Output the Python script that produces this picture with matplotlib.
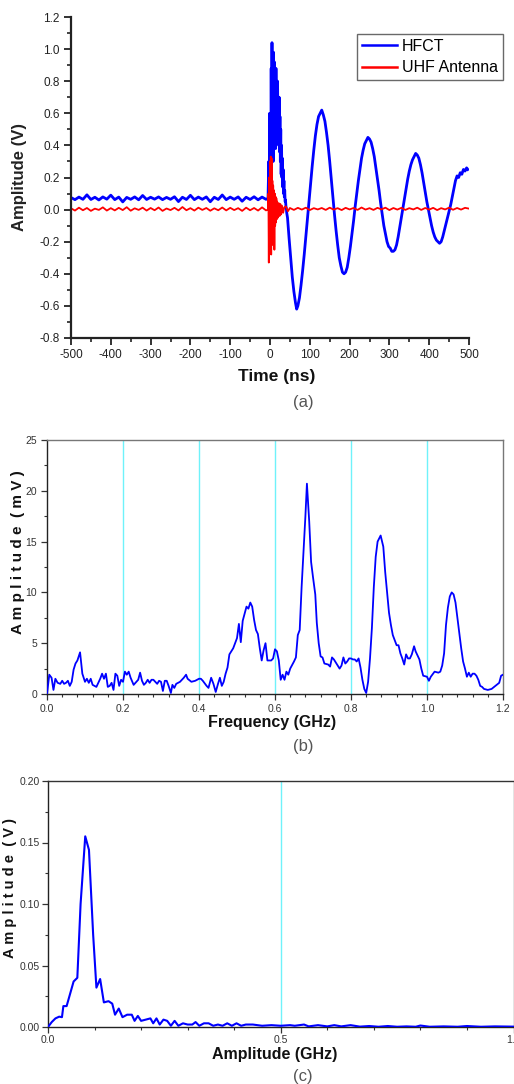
import matplotlib
matplotlib.use("Agg")
import matplotlib.pyplot as plt
from matplotlib.ticker import MultipleLocator, FormatStrFormatter

plt.rcParams['axes.unicode_minus'] = False
plt.rcParams['font.family'] = ['Liberation Sans', 'DejaVu Sans']

# ---------------- Panel (a): time-domain signals ----------------
hfct_time = [-500, -490, -480, -470, -460, -450, -440, -430, -420, -410,
             -400, -390, -380, -370, -360, -350, -340, -330, -320, -310,
             -300, -290, -280, -270, -260, -250, -240, -230, -220, -210,
             -200, -190, -180, -170, -160, -150, -140, -130, -120, -110,
             -100, -90, -80, -70, -60, -50, -40, -30, -20, -10,
             -5, -3, -2, -1, 0, 1, 2, 3, 4, 5, 6, 7, 8, 9, 10, 11, 12, 13, 14, 15,
             16, 17, 18, 19, 20, 21, 22, 23, 24, 25, 26, 27, 28, 29, 30, 31, 32,
             33, 34, 35, 36, 37, 38, 39, 40, 41, 42,
             44, 48, 52, 56, 60, 64, 67, 70, 74, 78, 82, 86, 90, 94, 98, 102,
             106, 110, 114, 118, 122, 126, 130, 134, 138, 142, 146, 150, 154,
             158, 162, 166, 170, 174, 178, 182, 186, 190, 194, 198, 202, 206,
             210, 214, 218, 222, 226, 230, 234, 238, 242, 246, 250, 254, 258,
             262, 266, 270, 274, 278, 282, 286, 290, 294, 298, 302, 306, 310,
             314, 318, 322, 326, 330, 334, 338, 342, 346, 350, 354, 358, 362,
             366, 370, 374, 378, 382, 386, 390, 394, 398, 402, 406, 410, 414,
             418, 422, 426, 430, 434, 438, 442, 446, 450, 454, 458, 462, 466,
             470, 474, 478, 482, 486, 490, 494, 497]
hfct_amp = [0.075, 0.062, 0.078, 0.064, 0.092, 0.063, 0.077, 0.060, 0.079, 0.065,
            0.090, 0.062, 0.078, 0.048, 0.076, 0.064, 0.079, 0.061, 0.088, 0.063,
            0.077, 0.065, 0.079, 0.062, 0.076, 0.064, 0.080, 0.050, 0.077, 0.063,
            0.089, 0.062, 0.078, 0.064, 0.079, 0.049, 0.077, 0.063, 0.091, 0.062,
            0.078, 0.064, 0.079, 0.052, 0.077, 0.063, 0.080, 0.061, 0.078, 0.064,
            0.070, 0.300, 0.100, 0.600, 0.200, 0.550, 0.120, 0.880, 0.300, 1.040,
            0.420, 0.960, 0.300, 0.980, 0.480, 0.920, 0.550, 0.820, 0.380, 0.880,
            0.580, 0.760, 0.440, 0.800, 0.520, 0.660, 0.400, 0.700, 0.360, 0.580,
            0.300, 0.500, 0.220, 0.400, 0.200, 0.320, 0.140, 0.250, 0.100, 0.180,
            0.080, 0.120, 0.050, 0.060, 0.020, 0.010, -0.020,
            -0.05, -0.18, -0.30, -0.42, -0.51, -0.58, -0.62, -0.60, -0.55, -0.47,
            -0.38, -0.28, -0.17, -0.06, 0.05, 0.16, 0.27, 0.37, 0.46, 0.53, 0.58,
            0.60, 0.62, 0.59, 0.55, 0.48, 0.40, 0.30, 0.19, 0.08, -0.03, -0.13,
            -0.22, -0.30, -0.35, -0.39, -0.40, -0.39, -0.36, -0.30, -0.23, -0.15,
            -0.07, 0.02, 0.10, 0.18, 0.25, 0.32, 0.37, 0.41, 0.43, 0.45, 0.44,
            0.42, 0.38, 0.33, 0.26, 0.19, 0.12, 0.04, -0.03, -0.10, -0.15, -0.20,
            -0.23, -0.24, -0.26, -0.26, -0.25, -0.22, -0.17, -0.11, -0.05, 0.01,
            0.07, 0.13, 0.19, 0.24, 0.28, 0.31, 0.33, 0.35, 0.34, 0.32, 0.28,
            0.23, 0.17, 0.11, 0.05, 0.00, -0.05, -0.10, -0.14, -0.17, -0.19,
            -0.20, -0.21, -0.20, -0.17, -0.13, -0.09, -0.05, -0.01, 0.03, 0.08,
            0.13, 0.18, 0.21, 0.20, 0.23, 0.22, 0.25, 0.24, 0.26, 0.25]

uhf_time = [-500, -490, -480, -470, -460, -450, -440, -430, -420, -410,
            -400, -390, -380, -370, -360, -350, -340, -330, -320, -310,
            -300, -290, -280, -270, -260, -250, -240, -230, -220, -210,
            -200, -190, -180, -170, -160, -150, -140, -130, -120, -110,
            -100, -90, -80, -70, -60, -50, -40, -30, -20, -10,
            -5, -4, -3, -2, -1, 0, 1, 2, 3, 4, 5, 6, 7, 8, 9, 10, 11, 12, 13,
            14, 15, 16, 17, 18, 20, 22, 24, 26, 28, 30, 33, 36, 40, 45,
            50, 60, 70, 80, 90, 100, 110, 120, 130, 140, 150, 160, 170, 180,
            190, 200, 210, 220, 230, 240, 250, 260, 270, 280, 290, 300, 310,
            320, 330, 340, 350, 360, 370, 380, 390, 400, 410, 420, 430, 440,
            450, 460, 470, 480, 490, 500]
uhf_amp = [0.008, -0.006, 0.012, -0.004, 0.010, -0.008, 0.006, -0.002, 0.014, -0.006,
           0.009, -0.005, 0.011, -0.003, 0.015, -0.007, 0.008, -0.002, 0.012, -0.006,
           0.010, -0.004, 0.013, -0.008, 0.007, -0.003, 0.011, -0.005, 0.016, -0.004,
           0.009, -0.006, 0.012, -0.002, 0.010, -0.007, 0.008, -0.004, 0.013, -0.005,
           0.011, -0.003, 0.009, -0.008, 0.012, -0.004, 0.010, -0.006, 0.014, -0.005,
           0.000, 0.100, -0.330, 0.200, -0.250, 0.300, -0.200, 0.330, -0.280, 0.320,
           -0.150, 0.180, -0.220, 0.150, -0.120, 0.120, -0.250, 0.100, -0.100, 0.080,
           -0.080, 0.070, -0.060, 0.050, -0.050, 0.040, -0.040, 0.035, -0.030,
           0.025, -0.020, 0.015, 0.020, -0.010,
           0.010, -0.002, 0.011, 0.000, 0.012, -0.003, 0.009, 0.001, 0.010, -0.002,
           0.012, 0.000, 0.009, -0.003, 0.011, 0.001, 0.010, -0.002, 0.013, 0.000,
           0.009, -0.002, 0.011, 0.001, 0.012, -0.003, 0.010, 0.000, 0.011, -0.002,
           0.009, 0.001, 0.012, -0.002, 0.010, 0.000, 0.011, -0.003, 0.009, 0.001,
           0.012, -0.001, 0.010, 0.000, 0.011, 0.006]

a_xticks = [-500, -400, -300, -200, -100, 0, 100, 200, 300, 400, 500]
a_yticks = [-0.8, -0.6, -0.4, -0.2, 0.0, 0.2, 0.4, 0.6, 0.8, 1.0, 1.2]

# ---------------- Panel (b): spectrum (mV) ----------------
freq_b = [0.000, 0.006, 0.012, 0.017, 0.022, 0.028, 0.035, 0.040, 0.045, 0.050,
          0.055, 0.060, 0.065, 0.070, 0.075, 0.080, 0.087, 0.093, 0.100, 0.105,
          0.110, 0.115, 0.120, 0.130, 0.140, 0.145, 0.150, 0.155, 0.160, 0.165,
          0.170, 0.175, 0.180, 0.185, 0.190, 0.195, 0.200, 0.205, 0.210, 0.215,
          0.220, 0.228, 0.235, 0.240, 0.245, 0.250, 0.255, 0.260, 0.265, 0.270,
          0.275, 0.280, 0.285, 0.290, 0.295, 0.300, 0.305, 0.310, 0.315, 0.320,
          0.326, 0.330, 0.335, 0.340, 0.345, 0.350, 0.360, 0.366, 0.370, 0.380,
          0.390, 0.400, 0.405, 0.410, 0.420, 0.425, 0.432, 0.438, 0.444, 0.450,
          0.455, 0.460, 0.465, 0.470, 0.475, 0.480, 0.490, 0.500, 0.505, 0.510,
          0.515, 0.520, 0.525, 0.530, 0.535, 0.540, 0.545, 0.550, 0.555, 0.560,
          0.565, 0.570, 0.575, 0.580, 0.590, 0.595, 0.600, 0.605, 0.610, 0.615,
          0.620, 0.625, 0.630, 0.635, 0.640, 0.650, 0.655, 0.660, 0.665, 0.670,
          0.675, 0.680, 0.684, 0.690, 0.695, 0.700, 0.706, 0.710, 0.715, 0.720,
          0.725, 0.730, 0.740, 0.745, 0.750, 0.755, 0.760, 0.770, 0.775, 0.780,
          0.785, 0.790, 0.795, 0.800, 0.805, 0.810, 0.815, 0.820, 0.825, 0.830,
          0.835, 0.840, 0.845, 0.850, 0.855, 0.860, 0.865, 0.870, 0.878, 0.885,
          0.890, 0.895, 0.900, 0.905, 0.910, 0.915, 0.920, 0.925, 0.930, 0.935,
          0.940, 0.945, 0.950, 0.955, 0.960, 0.966, 0.970, 0.975, 0.980, 0.985,
          0.990, 1.000, 1.005, 1.010, 1.020, 1.030, 1.035, 1.040, 1.045, 1.050,
          1.055, 1.060, 1.065, 1.070, 1.075, 1.080, 1.085, 1.090, 1.095, 1.100,
          1.105, 1.110, 1.115, 1.120, 1.125, 1.130, 1.135, 1.140, 1.145, 1.150,
          1.160, 1.170, 1.180, 1.190, 1.195, 1.200]
amp_b = [0.0, 1.9, 1.6, 0.4, 1.5, 1.1, 1.0, 1.3, 1.0, 1.1,
         1.3, 0.8, 1.2, 2.4, 3.0, 3.3, 4.1, 2.0, 1.2, 1.5,
         1.1, 1.5, 0.9, 0.7, 1.5, 2.0, 1.5, 2.0, 0.7, 0.8,
         1.1, 0.4, 2.0, 1.8, 0.8, 1.4, 1.2, 2.2, 1.9, 2.2,
         1.6, 0.9, 1.2, 1.4, 2.1, 1.3, 0.9, 1.1, 1.4, 1.1,
         1.4, 1.4, 1.2, 1.0, 1.3, 1.2, 0.3, 1.3, 1.3, 0.8,
         0.1, 0.9, 0.6, 1.0, 1.1, 1.2, 1.6, 1.9, 1.5, 1.2,
         1.3, 1.5, 1.5, 1.3, 0.8, 0.6, 1.6, 1.0, 0.2, 1.0,
         1.6, 0.8, 1.2, 2.0, 2.6, 3.9, 4.5, 5.5, 6.9, 5.1,
         7.2, 7.9, 8.6, 8.4, 9.0, 8.6, 7.3, 6.3, 5.9, 4.5,
         3.3, 4.3, 5.0, 3.3, 3.3, 3.5, 4.4, 4.2, 3.3, 1.4,
         1.9, 1.4, 2.2, 1.9, 2.5, 3.2, 3.6, 5.8, 6.3, 10.5,
         14.0, 17.5, 20.7, 17.0, 13.0, 11.5, 9.8, 7.0, 5.0, 3.7,
         3.6, 3.0, 2.9, 2.7, 3.6, 3.4, 3.1, 2.5, 2.8, 3.6,
         3.0, 3.2, 3.5, 3.5, 3.4, 3.4, 3.2, 3.5, 2.6, 1.4,
         0.5, 0.1, 1.2, 3.5, 6.5, 10.5, 13.5, 15.0, 15.6, 14.5,
         12.0, 10.0, 8.0, 6.8, 5.8, 5.3, 4.8, 4.8, 4.0, 3.5,
         2.9, 3.9, 3.5, 3.5, 3.9, 4.7, 4.2, 3.8, 3.4, 2.5,
         1.8, 1.7, 1.3, 1.7, 2.2, 2.1, 2.2, 2.8, 4.0, 6.8,
         8.5, 9.6, 10.0, 9.8, 9.0, 7.5, 6.0, 4.5, 3.2, 2.5,
         1.7, 2.1, 1.7, 2.0, 2.0, 1.8, 1.4, 0.8, 0.7, 0.5,
         0.4, 0.5, 0.8, 1.1, 1.8, 1.9]
b_xticks = [0.0, 0.2, 0.4, 0.6, 0.8, 1.0, 1.2]
b_grid = [0.2, 0.4, 0.6, 0.8, 1.0]
b_yticks = [0, 5, 10, 15, 20, 25]

# ---------------- Panel (c): spectrum (V) ----------------
freq_c = [0.000, 0.008, 0.016, 0.024, 0.030, 0.033, 0.040, 0.046, 0.055, 0.063,
          0.070, 0.080, 0.088, 0.097, 0.104, 0.112, 0.120, 0.130, 0.138, 0.144,
          0.152, 0.160, 0.170, 0.180, 0.186, 0.193, 0.200, 0.210, 0.220, 0.226,
          0.233, 0.240, 0.248, 0.256, 0.264, 0.272, 0.280, 0.290, 0.300, 0.310,
          0.317, 0.325, 0.335, 0.345, 0.355, 0.365, 0.375, 0.385, 0.395, 0.405,
          0.415, 0.425, 0.440, 0.460, 0.480, 0.500, 0.520, 0.530, 0.550, 0.560,
          0.580, 0.600, 0.615, 0.630, 0.650, 0.670, 0.690, 0.710, 0.730, 0.750,
          0.770, 0.790, 0.800, 0.820, 0.850, 0.880, 0.900, 0.930, 0.960, 1.000]
amp_c = [0.000, 0.004, 0.007, 0.0084, 0.008, 0.017, 0.017, 0.025, 0.037, 0.040,
         0.100, 0.155, 0.144, 0.075, 0.032, 0.039, 0.020, 0.021, 0.019, 0.010,
         0.015, 0.008, 0.010, 0.010, 0.005, 0.009, 0.005, 0.006, 0.007, 0.003,
         0.007, 0.002, 0.006, 0.005, 0.001, 0.005, 0.001, 0.003, 0.002, 0.002,
         0.004, 0.001, 0.003, 0.003, 0.001, 0.002, 0.001, 0.003, 0.001, 0.003,
         0.001, 0.002, 0.002, 0.001, 0.0015, 0.001, 0.0015, 0.001, 0.002, 0.0005,
         0.0015, 0.0005, 0.0015, 0.0005, 0.0015, 0.0003, 0.0008, 0.0002, 0.0008, 0.0002,
         0.0005, 0.0002, 0.0012, 0.0002, 0.0005, 0.0002, 0.0008, 0.0002, 0.0005, 0.0003]
c_xticks = [0.0, 0.5, 1.0]
c_grid = [0.5]
c_yticks = [0.00, 0.05, 0.10, 0.15, 0.20]

W, H = 514, 1084
fig = plt.figure(figsize=(W / 100, H / 100), dpi=100)

def fx(px):
    return px / W

def fy(py):
    return 1 - py / H

NARROW = ['Liberation Sans Narrow', 'Liberation Sans', 'DejaVu Sans']
CYAN = '#6ff2fa'
GRAYTXT = '#555555'

# ----- Panel (a) -----
axa = fig.add_axes([fx(71), fy(338), fx(469 - 71), (338 - 17) / H])
axa.plot(hfct_time, hfct_amp, color='#0000ff', lw=2.0, label='HFCT')
axa.plot(uhf_time, uhf_amp, color='#ff0000', lw=1.3, label='UHF Antenna')
axa.set_xlim(-500, 500)
axa.set_ylim(-0.8, 1.2)
axa.set_xticks(a_xticks)
axa.set_yticks(a_yticks)
axa.xaxis.set_minor_locator(MultipleLocator(50))
axa.yaxis.set_minor_locator(MultipleLocator(0.1))
axa.yaxis.set_major_formatter(FormatStrFormatter('%.1f'))
for s in ['top', 'right']:
    axa.spines[s].set_visible(False)
for s in ['left', 'bottom']:
    axa.spines[s].set_linewidth(1.6)
    axa.spines[s].set_color('#222222')
axa.tick_params(which='major', direction='out', length=5, width=1.3, labelsize=8.5,
                colors='#222222', pad=3)
axa.tick_params(which='minor', direction='out', length=3, width=1.2, colors='#222222')
leg = axa.legend(loc='upper left', bbox_to_anchor=(fx(357), fy(34)),
                 bbox_transform=fig.transFigure, borderaxespad=0, fontsize=11.5,
                 frameon=True, fancybox=False, handlelength=2.2, handletextpad=0.3,
                 borderpad=0.3, labelspacing=0.4)
leg.get_frame().set_edgecolor('#444444')
leg.get_frame().set_linewidth(1.0)
for line in leg.get_lines():
    line.set_linewidth(1.8)
fig.text(fx(20), fy(177), 'Amplitude (V)', rotation=90, ha='center', va='center',
         fontsize=12, fontweight='bold', color='#222222')
fig.text(fx(277), fy(377), 'Time (ns)', ha='center', va='center',
         fontsize=12.5, fontweight='bold', color='#111111')
fig.text(fx(303), fy(403), '(a)', ha='center', va='center', fontsize=12, color=GRAYTXT)

# ----- Panel (b) -----
axb = fig.add_axes([fx(47), fy(694), fx(503 - 47), (694 - 440) / H])
for g in b_grid:
    axb.axvline(g, color=CYAN, lw=1.0, zorder=1)
axb.plot(freq_b, amp_b, color='#0000ff', lw=1.3, zorder=3)
axb.set_xlim(0, 1.2)
axb.set_ylim(0, 25)
axb.set_xticks(b_xticks)
axb.set_yticks(b_yticks)
axb.xaxis.set_minor_locator(MultipleLocator(0.04))
axb.yaxis.set_minor_locator(MultipleLocator(2.5))
axb.xaxis.set_major_formatter(FormatStrFormatter('%.1f'))
axb.spines['left'].set_color('#222222')
axb.spines['bottom'].set_color('#222222')
axb.spines['top'].set_color('#777777')
axb.spines['right'].set_color('#777777')
for s in axb.spines.values():
    s.set_linewidth(1.0)
axb.tick_params(which='major', direction='out', length=4, width=0.9, labelsize=7.5,
                colors='#333333', pad=3)
axb.tick_params(which='minor', direction='out', length=2.5, width=0.8, colors='#333333')
for lab in axb.get_xticklabels() + axb.get_yticklabels():
    lab.set_family(NARROW)
fig.text(fx(18), fy(552), 'A m p l i t u d e  ( m V )', rotation=90, ha='center',
         va='center', fontsize=11, fontweight='bold', color='#111111', family=NARROW)
fig.text(fx(272), fy(723), 'Frequency (GHz)', ha='center', va='center',
         fontsize=11.5, fontweight='bold', color='#111111', family=NARROW)
fig.text(fx(303), fy(746), '(b)', ha='center', va='center', fontsize=12, color=GRAYTXT)

# ----- Panel (c) -----
axc = fig.add_axes([fx(48), fy(1027), fx(513.5 - 48), (1027 - 781) / H])
for g in c_grid:
    axc.axvline(g, color=CYAN, lw=1.0, zorder=1)
axc.plot(freq_c, amp_c, color='#0000ff', lw=1.5, zorder=3)
axc.set_xlim(0, 1.0)
axc.set_ylim(0, 0.20)
axc.set_xticks(c_xticks)
axc.set_yticks(c_yticks)
axc.xaxis.set_minor_locator(MultipleLocator(0.1))
axc.yaxis.set_minor_locator(MultipleLocator(0.025))
axc.xaxis.set_major_formatter(FormatStrFormatter('%.1f'))
axc.yaxis.set_major_formatter(FormatStrFormatter('%.2f'))
axc.spines['left'].set_color('#222222')
axc.spines['bottom'].set_color('#222222')
axc.spines['top'].set_color('#333333')
axc.spines['right'].set_color('#777777')
for s in axc.spines.values():
    s.set_linewidth(1.0)
axc.tick_params(which='major', direction='out', length=4, width=0.9, labelsize=7.5,
                colors='#333333', pad=2)
axc.tick_params(which='minor', direction='out', length=2.5, width=0.8, colors='#333333')
for lab in axc.get_xticklabels() + axc.get_yticklabels():
    lab.set_family(NARROW)
fig.text(fx(10), fy(888), 'A m p l i t u d e  ( V )', rotation=90, ha='center',
         va='center', fontsize=10.5, fontweight='bold', color='#111111', family=NARROW)
fig.text(fx(275), fy(1055), 'Amplitude (GHz)', ha='center', va='center',
         fontsize=11.5, fontweight='bold', color='#111111', family=NARROW)
fig.text(fx(303), fy(1077), '(c)', ha='center', va='center', fontsize=12, color=GRAYTXT)

fig.savefig('out.png', dpi=100)
